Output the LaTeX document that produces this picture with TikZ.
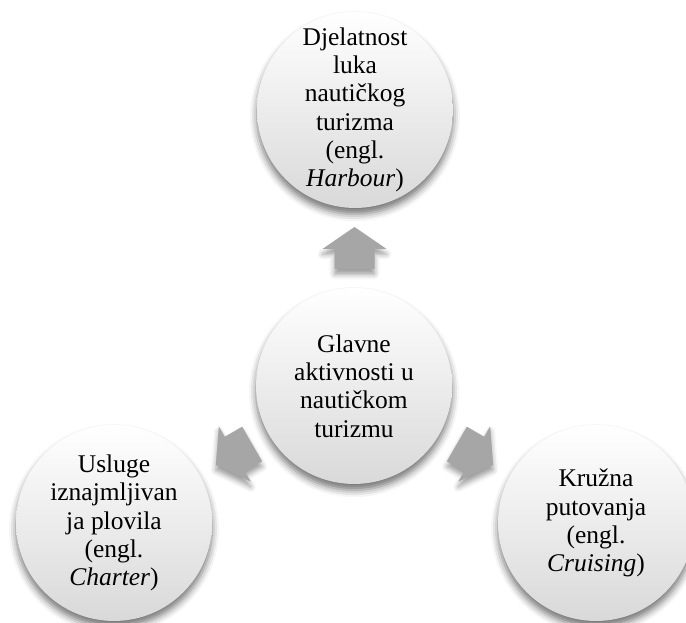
\documentclass[tikz,border=0pt]{standalone}
\usepackage{fontspec}
\setmainfont{Liberation Serif}
\usetikzlibrary{calc,shadows.blur}
\tikzset{
	krug/.style={circle, minimum size=3.92cm, inner sep=0pt, align=center,
		top color=white, bottom color=black!15,
		blur shadow={shadow xshift=0pt, shadow yshift=-3.5pt, shadow blur radius=4pt, shadow opacity=55},
		font=\fontsize{14.5}{16.1}\selectfont},
	strelica/.style={draw=none, fill=black!35,
		blur shadow={shadow xshift=0pt, shadow yshift=-3pt, shadow blur radius=3pt, shadow opacity=40}}
}
\def\strelica(#1)(#2){\path[strelica, shift={(#1)}, rotate=#2] (-21,-20) -- (-1,-20) -- (-1,-32) -- (21,0) -- (-1,32) -- (-1,20) -- (-21,20) -- cycle;}

\begin{document}
\begin{tikzpicture}[x=0.02cm, y=0.02cm]
			%%%%% START %%%%%
			\useasboundingbox (0, 0) rectangle (686, 622);
			
			\node[krug] (glavne) at (354, 236) {Glavne\\aktivnosti u\\nautičkom\\turizmu};
			
			\node[krug] (luke) at (355, 512) {Djelatnost\\luka\\nautičkog\\turizma\\(engl.\\\textit{Harbour})};
			\node[krug] (charter) at (114, 99) {Usluge\\iznajmljivan\\ja plovila\\(engl.\\\textit{Charter})};
			\node[krug] (cruising) at (596, 99) {Kružna\\putovanja\\(engl.\\\textit{Cruising})};
			
			\coordinate (s1) at ($(glavne)!0.5!(luke)$);
			\coordinate (s2) at ($(glavne)!0.5!(charter)$);
			\coordinate (s3) at ($(glavne)!0.5!(cruising)$);
			
			\strelica(s1)(90)
			\strelica(s2)(210)
			\strelica(s3)(330)
			
			%%%%% END %%%%%
		\end{tikzpicture}
\end{document}
